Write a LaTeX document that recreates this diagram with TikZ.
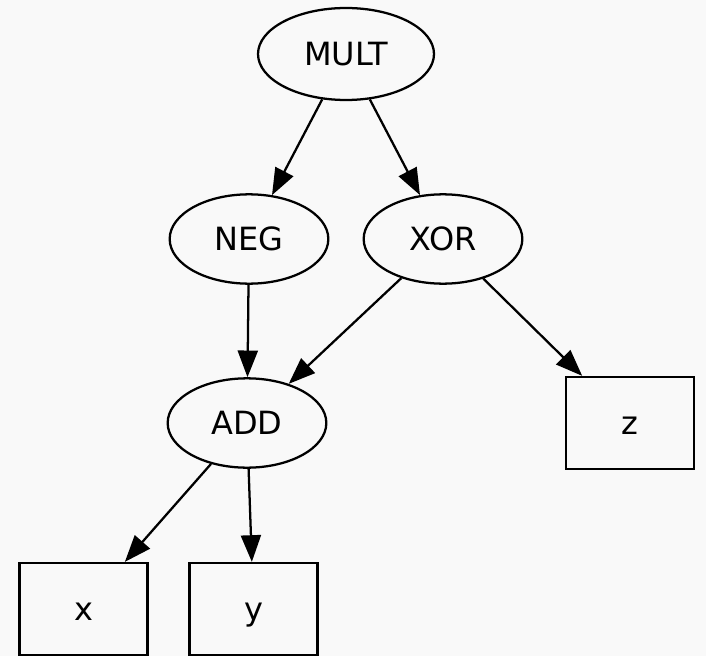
\documentclass[tikz,border=0pt]{standalone}
\usepackage{fontspec}
\setmainfont{DejaVu Sans}
\usetikzlibrary{shapes.geometric,arrows.meta}
\definecolor{bg}{RGB}{249,249,249}
\begin{document}
\begin{tikzpicture}[x=0.75pt,y=-0.75pt,
  every node/.style={font=\fontsize{24}{28}\selectfont, line width=1.7pt, draw=black, inner sep=0pt, text depth=0pt, text height=17pt},
  opnode/.style={ellipse, minimum width=119pt, minimum height=67pt},
  leaf/.style={rectangle, minimum width=96pt, minimum height=69pt},
  edge/.style={line width=1.7pt, -{Triangle[length=20pt,width=15pt]}}]
\fill[bg] (0,0) rectangle (706,656);
\useasboundingbox (0,0) rectangle (706,656);
\node[opnode, minimum width=132pt, minimum height=69pt] (mult) at (346,54) {MULT};
\node[opnode] (neg) at (249,239) {NEG};
\node[opnode] (xor) at (443,239) {XOR};
\node[opnode] (add) at (247,423) {ADD};
\node[leaf] (z) at (630,423) {z};
\node[leaf] (x) at (83.5,609) {x};
\node[leaf] (y) at (253.5,609) {y};
\draw[edge] (mult) -- (neg);
\draw[edge] (mult) -- (xor);
\draw[edge] (neg) -- (add);
\draw[edge] (xor) -- (add);
\draw[edge] (xor) -- (z);
\draw[edge] (add) -- (x);
\draw[edge] (add) -- (y);
\end{tikzpicture}
\end{document}
